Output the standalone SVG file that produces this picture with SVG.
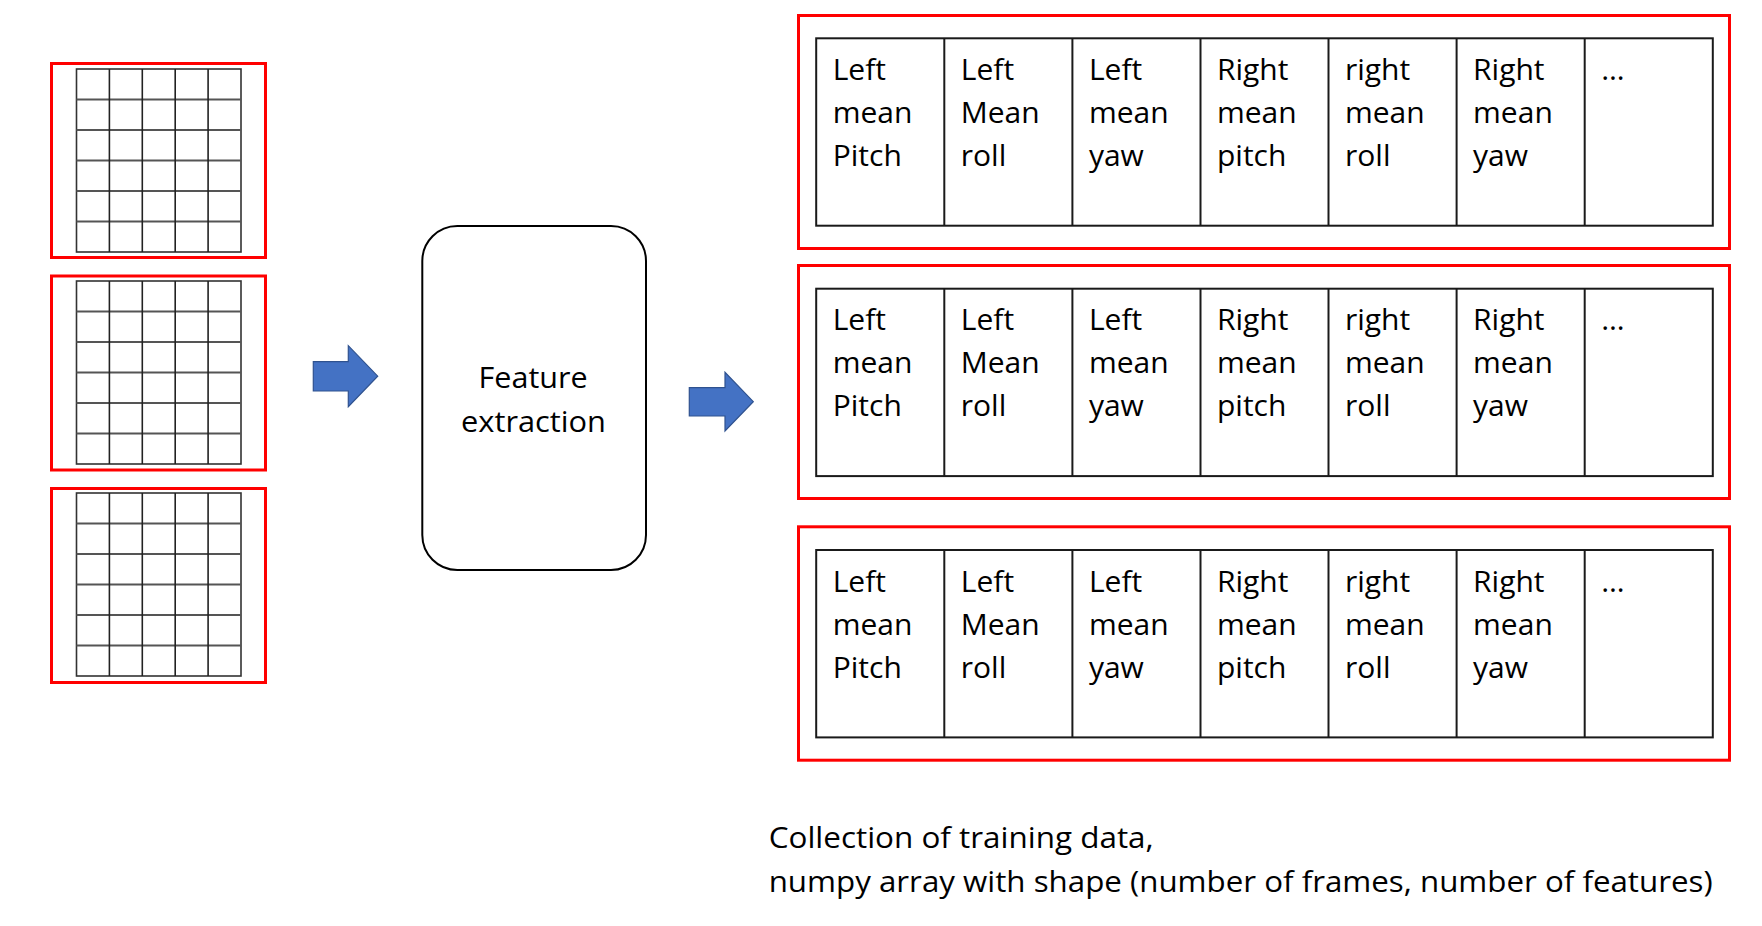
<svg xmlns="http://www.w3.org/2000/svg" width="1762" height="926" viewBox="0 0 1762 926">
<defs>
<style>
.red{fill:none;stroke:#FF0000;stroke-width:3}
.tbl{fill:#fff;stroke:#1a1a1a;stroke-width:2}
.col{stroke:#1a1a1a;stroke-width:2}
.gv{stroke:#222;stroke-width:1.6}
.gh{stroke:#555;stroke-width:2.2}
.gbox{fill:#fff;stroke:#333;stroke-width:1.6}
.t{font-family:"Open Sans","Noto Sans","Liberation Sans",sans-serif;font-size:30px;fill:#000}
.arrow{fill:#4472C4;stroke:#2F528F;stroke-width:1.2}
.proc{fill:#fff;stroke:#000;stroke-width:2}
</style>
<g id="gridpattern">
<rect class="gbox" x="0" y="0" width="164.5" height="183"/>
<line class="gh" x1="0" y1="30.5" x2="164.5" y2="30.5"/>
<line class="gh" x1="0" y1="61" x2="164.5" y2="61"/>
<line class="gh" x1="0" y1="91.5" x2="164.5" y2="91.5"/>
<line class="gh" x1="0" y1="122" x2="164.5" y2="122"/>
<line class="gh" x1="0" y1="152.5" x2="164.5" y2="152.5"/>
<line class="gv" x1="32.9" y1="0" x2="32.9" y2="183"/>
<line class="gv" x1="65.8" y1="0" x2="65.8" y2="183"/>
<line class="gv" x1="98.7" y1="0" x2="98.7" y2="183"/>
<line class="gv" x1="131.6" y1="0" x2="131.6" y2="183"/>
</g>
<g id="rowpattern">
<rect class="tbl" x="0" y="0" width="896.6" height="187.4"/>
<line class="col" x1="128.1" y1="0" x2="128.1" y2="187.4"/>
<line class="col" x1="256.2" y1="0" x2="256.2" y2="187.4"/>
<line class="col" x1="384.3" y1="0" x2="384.3" y2="187.4"/>
<line class="col" x1="512.3" y1="0" x2="512.3" y2="187.4"/>
<line class="col" x1="640.4" y1="0" x2="640.4" y2="187.4"/>
<line class="col" x1="768.5" y1="0" x2="768.5" y2="187.4"/>
<text class="t" x="16.5" y="41.7">Left</text>
<text class="t" x="16.5" y="84.7">mean</text>
<text class="t" x="16.5" y="127.7">Pitch</text>
<text class="t" x="144.6" y="41.7">Left</text>
<text class="t" x="144.6" y="84.7">Mean</text>
<text class="t" x="144.6" y="127.7">roll</text>
<text class="t" x="272.7" y="41.7">Left</text>
<text class="t" x="272.7" y="84.7">mean</text>
<text class="t" x="272.7" y="127.7">yaw</text>
<text class="t" x="400.8" y="41.7">Right</text>
<text class="t" x="400.8" y="84.7">mean</text>
<text class="t" x="400.8" y="127.7">pitch</text>
<text class="t" x="528.8" y="41.7">right</text>
<text class="t" x="528.8" y="84.7">mean</text>
<text class="t" x="528.8" y="127.7">roll</text>
<text class="t" x="656.9" y="41.7">Right</text>
<text class="t" x="656.9" y="84.7">mean</text>
<text class="t" x="656.9" y="127.7">yaw</text>
<text class="t" x="785" y="41.7">…</text>
</g>
</defs>
<rect x="0" y="0" width="1762" height="926" fill="#fff"/>

<g id="frame1">
<rect class="red" x="51.5" y="63.5" width="214" height="194"/>
<use href="#gridpattern" x="76.5" y="69"/>
</g>
<g id="frame2">
<rect class="red" x="51.5" y="276" width="214" height="194"/>
<use href="#gridpattern" x="76.5" y="281"/>
</g>
<g id="frame3">
<rect class="red" x="51.5" y="488.5" width="214" height="194"/>
<use href="#gridpattern" x="76.5" y="493"/>
</g>

<g id="feature-extraction">
<rect class="proc" x="422.3" y="226" width="223.7" height="344" rx="35" ry="35"/>
<text class="t" x="478.6" y="388.3" textLength="109" lengthAdjust="spacingAndGlyphs">Feature</text>
<text class="t" x="461" y="431.7" textLength="145" lengthAdjust="spacingAndGlyphs">extraction</text>
</g>

<g id="sample1">
<rect class="red" x="798.5" y="15.5" width="931" height="233"/>
<use href="#rowpattern" x="816.2" y="38.3"/>
</g>
<g id="sample2">
<rect class="red" x="798.5" y="265.5" width="931" height="233"/>
<use href="#rowpattern" x="816.2" y="288.7"/>
</g>
<g id="sample3">
<rect class="red" x="798.5" y="526.8" width="931" height="233.4"/>
<use href="#rowpattern" x="816.2" y="550"/>
</g>

<g id="caption">
<text class="t" x="768.7" y="848.3" textLength="385" lengthAdjust="spacingAndGlyphs">Collection of training data,</text>
<text class="t" x="768.7" y="891.5" textLength="944" lengthAdjust="spacingAndGlyphs">numpy array with shape (number of frames, number of features)</text>
</g>

<g id="connectors">
<polygon class="arrow" points="313.3,361.7 348.3,361.7 348.3,345.7 377.7,376.2 348.3,406.7 348.3,391 313.3,391"/>
<polygon class="arrow" points="689.3,387.7 725,387.7 725,372.3 753.3,401.7 725,431 725,416 689.3,416"/>
</g>
</svg>
